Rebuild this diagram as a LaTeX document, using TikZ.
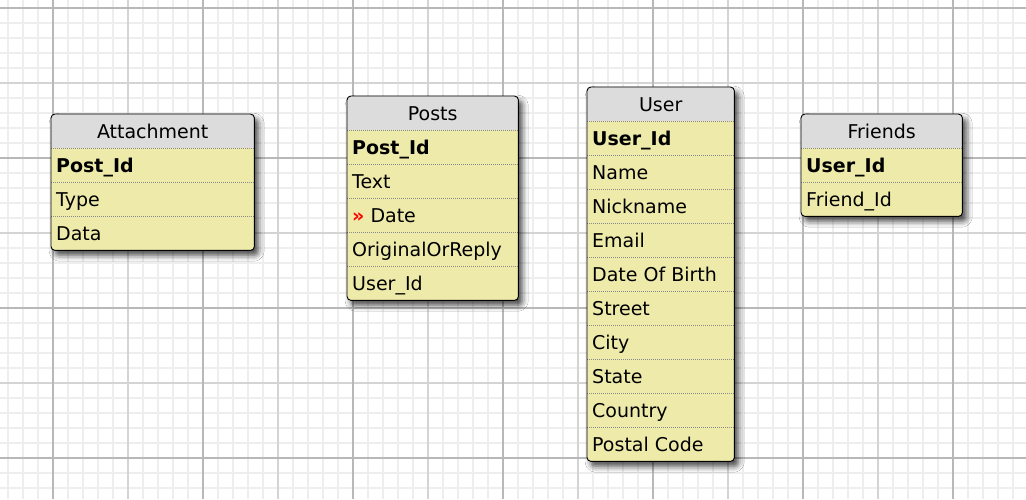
\documentclass[tikz,border=0pt]{standalone}
\usepackage{fontspec}
\setmainfont{DejaVu Sans}
\usetikzlibrary{shadows.blur}
\definecolor{minorgrid}{HTML}{EEEEEE}
\definecolor{midgrid}{HTML}{D4D4D4}
\definecolor{majorgrid}{HTML}{B8B8B8}
\definecolor{hdr}{HTML}{DCDCDC}
\definecolor{rowbg}{HTML}{EEEBAA}
\definecolor{sepc}{HTML}{8A8A8A}
\tikzset{
  minorline/.style={minorgrid, line width=1.3pt},
  midline/.style={midgrid, line width=1.2pt},
  majorline/.style={majorgrid, line width=1.2pt},
  tablebox/.style={rectangle, rounded corners=4pt, fill=rowbg, inner sep=0pt,
    blur shadow={shadow xshift=4pt, shadow yshift=-5pt, shadow blur radius=6pt, shadow opacity=75}},
  tableborder/.style={draw=black, line width=0.9pt, rounded corners=4pt},
  headfill/.style={fill=hdr},
  sepline/.style={sepc, line width=0.7pt, dash pattern=on 1pt off 1pt},
  headtext/.style={anchor=base, inner sep=0pt, font=\fontsize{19}{23}\selectfont},
  rowtext/.style={anchor=base west, inner sep=0pt, font=\fontsize{19}{23}\selectfont},
}
% #1 name, #2 x, #3 y, #4 width, #5 number of rows, #6 title, #7 rows
\newcommand\ertable[7]{%
  \node[tablebox, minimum width=#4pt, minimum height={(#5+1)*34pt}, anchor=north west] (#1) at (#2,#3) {};
  \begin{scope}
    \clip[rounded corners=4pt] (#1.north west) rectangle (#1.south east);
    \fill[headfill] (#1.north west) rectangle ([yshift=-34pt]#1.north east);
  \end{scope}
  \foreach \k in {1,...,#5}
    \draw[sepline] ([yshift={-34pt*\k}]#1.north west) -- ([yshift={-34pt*\k}]#1.north east);
  \node[headtext] (#1-title) at ([yshift=-24pt]#1.north) {#6};
  \foreach \t [count=\i] in {#7}
    \node[rowtext] (#1-\i) at ([xshift=5pt, yshift={-34pt*\i-24pt}]#1.north west) {\t};
  \draw[tableborder] (#1.north west) rectangle (#1.south east);
}
\begin{document}
\begin{tikzpicture}[x=1pt, y=-1pt]
  \useasboundingbox (0,0) rectangle (1026,499);
  \fill[white] (0,0) rectangle (1026,499);
  \foreach \x in {8,23,...,1025} \draw[minorline] (\x,0) -- (\x,499);
  \foreach \y in {8,23,...,498} \draw[minorline] (0,\y) -- (1026,\y);
  \foreach \x in {128,278,...,1025} \draw[midline] (\x,0) -- (\x,499);
  \foreach \y in {83,233,383} \draw[midline] (0,\y) -- (1026,\y);
  \foreach \x in {53,203,...,1025} \draw[majorline] (\x,0) -- (\x,499);
  \foreach \y in {8,158,308,458} \draw[majorline] (0,\y) -- (1026,\y);

  \ertable{attachment}{51}{114}{203}{3}{Attachment}{\textbf{Post\_Id},Type,Data}
  \ertable{posts}{347}{96}{171}{5}{Posts}{\textbf{Post\_Id},Text,{\textcolor{red}{\textbf{»}}\ Date},OriginalOrReply,User\_Id}
  \ertable{user}{587}{87}{147}{10}{User}{\textbf{User\_Id},Name,Nickname,Email,Date Of Birth,Street,City,State,Country,Postal Code}
  \ertable{friends}{801}{114}{161}{2}{Friends}{\textbf{User\_Id},Friend\_Id}
\end{tikzpicture}
\end{document}
